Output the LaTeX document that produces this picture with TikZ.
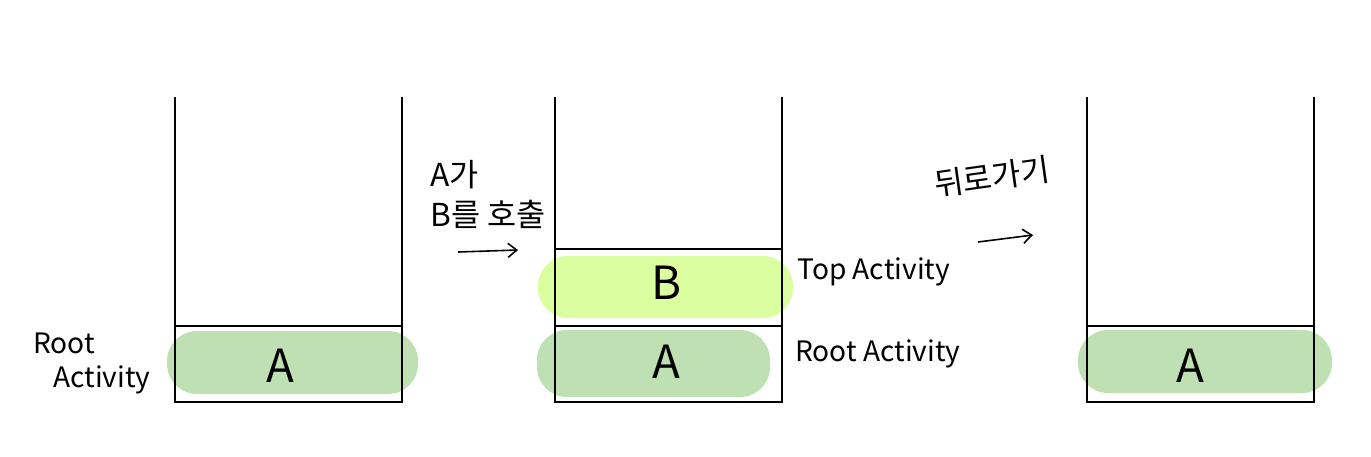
\documentclass[tikz,border=0pt]{standalone}
\usepackage{fontspec}
\newfontfamily\hand{Noto Sans CJK KR}
\usetikzlibrary{arrows.meta}
\definecolor{rootgreen}{RGB}{190,224,178}
\definecolor{topgreen}{RGB}{219,254,160}

\begin{document}
\begin{tikzpicture}[x=0.02cm,y=-0.02cm,
    stackline/.style={line width=1.3pt,black},
    blob/.style={rounded corners=0.6cm},
    lbl/.style={font=\hand\fontsize{16}{18}\selectfont,inner sep=0pt},
    klbl/.style={font=\hand\fontsize{18}{20}\selectfont,inner sep=0pt},
    big/.style={font=\hand\fontsize{26}{28}\selectfont,inner sep=0pt},
    handarrow/.style={line width=0.9pt,-{Straight Barb[length=5pt,width=8pt]}}]
\useasboundingbox (0,0) rectangle (1371,456);

% first stack
\fill[rootgreen,blob] (167,331) rectangle (418,394);
\draw[stackline] (175,97) -- (175,402) -- (402,402) -- (402,97);
\draw[stackline] (175,326) -- (402,326);
\node[big] (a1) at (280,366) {A};
\node[lbl,anchor=west] (root1) at (33,343) {Root};
\node[lbl,anchor=west] (act1) at (53,380) {Activity};

% second stack
\fill[topgreen,blob] (538,256) rectangle (793,318);
\fill[rootgreen,blob] (537,330) rectangle (770,397);
\draw[stackline] (555,97) -- (555,402) -- (782,402) -- (782,97);
\draw[stackline] (555,249) -- (782,249);
\draw[stackline] (555,326) -- (782,326);
\node[big] (b2) at (666,283) {B};
\node[big] (a2) at (666,362) {A};
\node[lbl,anchor=west] (top2) at (797,272) {Top Activity};
\node[lbl,anchor=west] (root2) at (795,354) {Root Activity};

% third stack
\fill[rootgreen,blob] (1078,330) rectangle (1332,393);
\draw[stackline] (1087,97) -- (1087,402) -- (1314,402) -- (1314,97);
\draw[stackline] (1087,326) -- (1314,326);
\node[big] (a3) at (1190,366) {A};

% steps
\node[klbl,anchor=west] (call1) at (430,175) {A가};
\node[klbl,anchor=west] (call2) at (430,214) {B를 호출};
\coordinate (go1) at (458,252);
\coordinate (go2) at (518,250);
\draw[handarrow] (go1) -- (go2);

\node[klbl,rotate=8] (back) at (992,177) {뒤로가기};
\coordinate (ret1) at (978,242);
\coordinate (ret2) at (1033,235);
\draw[handarrow] (ret1) -- (ret2);
\end{tikzpicture}
\end{document}
